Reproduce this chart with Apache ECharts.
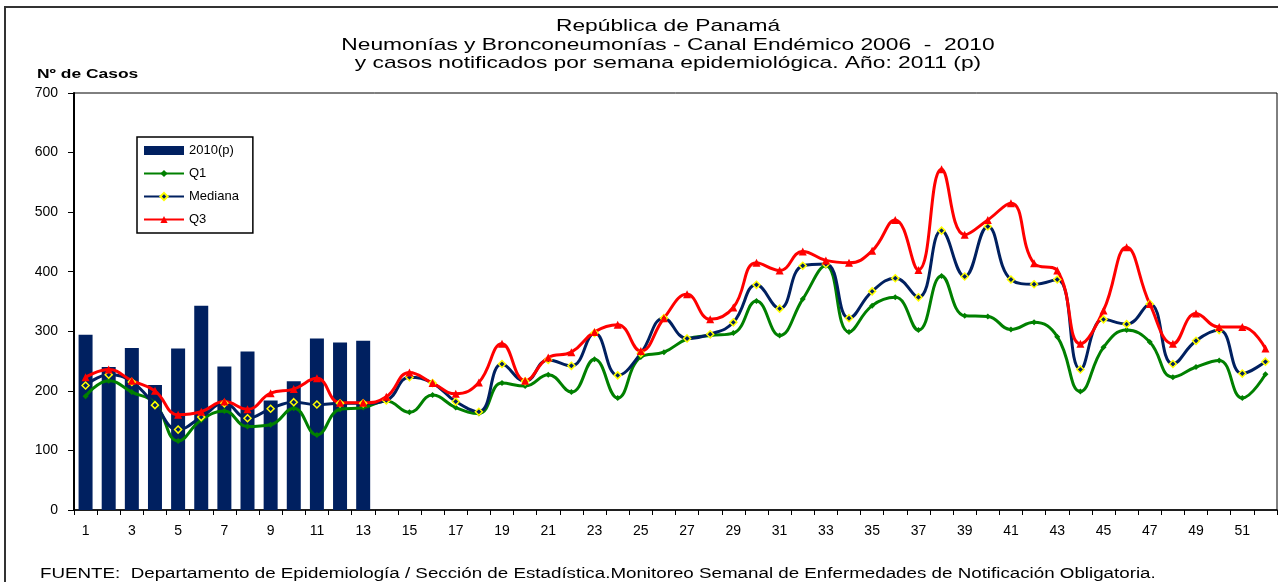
<!DOCTYPE html>
<html>
<head>
<meta charset="utf-8">
<title>Canal Endémico</title>
<script src="https://cdn.jsdelivr.net/npm/echarts@6/dist/echarts.min.js"></script>
<style>
  html, body { margin: 0; padding: 0; background: #fff; }
  #chart { width: 1278px; height: 582px; }
</style>
</head>
<body>
<div id="chart"></div>
<script>
// semanas epidemiológicas 1..52
var semanas = [];
for (var i = 1; i <= 52; i++) semanas.push(String(i));

var yTicks = [0, 100, 200, 300, 400, 500, 600, 700];

// casos 2010(p), solo semanas 1-13
var casos2010 = [294, 240, 272, 210, 271, 343, 241, 266, 184, 216, 288, 281, 284];

var q1 = [191, 217, 198, 179, 116, 151, 166, 140, 143, 171, 126, 169, 172,
  183, 164, 193, 172, 162, 213, 208, 227, 198, 253, 188, 257, 265,
  287, 293, 297, 351, 293, 354, 410, 299, 343, 357, 302, 393,
  326, 325, 303, 315, 291, 199, 273, 302, 282, 223, 240, 251, 188, 228];

var mediana = [209, 227, 215, 176, 135, 156, 179, 154, 170, 181, 177, 179, 179,
  184, 223, 213, 182, 165, 245, 216, 252, 242, 297, 226, 263, 322,
  288, 295, 315, 378, 338, 410, 413, 322, 367, 389, 357, 469,
  392, 476, 387, 379, 387, 236, 320, 312, 346, 245, 284, 302, 229, 249];

var q3 = [223, 236, 217, 200, 160, 165, 182, 169, 196, 203, 221, 180, 180,
  190, 231, 213, 195, 214, 279, 217, 256, 265, 299, 311, 267, 322,
  362, 320, 340, 415, 402, 434, 419, 415, 435, 487, 403, 572,
  462, 487, 515, 414, 402, 279, 335, 441, 346, 279, 330, 307, 307, 271];

var titulo = [
  'República de Panamá',
  'Neumonías y Bronconeumonías - Canal Endémico 2006  -  2010',
  'y casos notificados por semana epidemiológica. Año: 2011 (p)'
];
var fuente = 'FUENTE:  Departamento de Epidemiología / Sección de Estadística.Monitoreo Semanal de Enfermedades de Notificación Obligatoria.';

var FONT = '"Liberation Sans", Arial, sans-serif';
// el texto del original está estirado a lo ancho
var STRETCH = 1.34;

function texto(str, x, y, size, weight, align) {
  return {
    type: 'text',
    x: x,
    y: y,
    scaleX: STRETCH,
    silent: true,
    style: {
      text: str,
      fill: '#000',
      fontSize: size,
      fontWeight: weight || 'normal',
      fontFamily: FONT,
      textAlign: align || 'left',
      textVerticalAlign: 'middle'
    }
  };
}

var graficos = [{
  type: 'rect',
  shape: { x: 5, y: 7, width: 1300, height: 620 },
  style: { fill: 'none', stroke: '#333', lineWidth: 2 },
  silent: true
}];
titulo.forEach(function (t, k) {
  graficos.push(texto(t, 668, 26.5 + k * 18.5, 17, 'normal', 'center'));
});
graficos.push(texto('Nº de Casos', 37, 74, 13, 'bold'));
graficos.push(texto(fuente, 40, 574, 14));

var chart = echarts.init(document.getElementById('chart'));
chart.setOption({
  animation: false,
  textStyle: { fontFamily: FONT, color: '#000' },
  graphic: graficos,
  legend: {
    orient: 'vertical',
    left: 137,
    top: 137,
    padding: [7, 14, 7, 6],
    itemGap: 10,
    itemWidth: 40,
    itemHeight: 9,
    borderColor: '#000',
    borderWidth: 1.5,
    backgroundColor: '#fff',
    textStyle: { fontSize: 13, color: '#000' },
    data: [
      { name: '2010(p)', icon: 'rect' },
      { name: 'Q1' },
      { name: 'Mediana' },
      { name: 'Q3' }
    ]
  },
  grid: {
    left: 74,
    right: 1,
    top: 93,
    bottom: 72,
    show: true,
    borderColor: '#000',
    borderWidth: 1
  },
  xAxis: {
    type: 'category',
    data: semanas,
    boundaryGap: true,
    axisLine: { lineStyle: { color: '#000', width: 1.5 } },
    axisTick: { show: true, interval: 0, length: 5, lineStyle: { color: '#000' } },
    axisLabel: { interval: 1, fontSize: 14, color: '#000', margin: 14 }
  },
  yAxis: {
    type: 'value',
    min: yTicks[0],
    max: yTicks[yTicks.length - 1],
    interval: 100,
    axisLine: { show: true, lineStyle: { color: '#000', width: 2 } },
    axisTick: { show: true, length: 6, lineStyle: { color: '#000' } },
    axisLabel: { fontSize: 14, color: '#000', margin: 16 },
    splitLine: { show: false }
  },
  series: [{
    name: '2010(p)',
    type: 'bar',
    data: casos2010,
    barWidth: 14,
    itemStyle: { color: '#002060' }
  }, {
    name: 'Q1',
    type: 'line',
    data: q1,
    smooth: 0.45,
    symbol: 'diamond',
    symbolSize: 6,
    lineStyle: { color: '#008000', width: 3 },
    itemStyle: { color: '#008000' }
  }, {
    name: 'Mediana',
    type: 'line',
    data: mediana,
    smooth: 0.45,
    symbol: 'diamond',
    symbolSize: 7,
    lineStyle: { color: '#002060', width: 3 },
    itemStyle: { color: '#002060', borderColor: '#ffff00', borderWidth: 1.5 }
  }, {
    name: 'Q3',
    type: 'line',
    data: q3,
    smooth: 0.45,
    symbol: 'triangle',
    symbolSize: 8,
    lineStyle: { color: '#ff0000', width: 3 },
    itemStyle: { color: '#ff0000' }
  }]
});
</script>
</body>
</html>
